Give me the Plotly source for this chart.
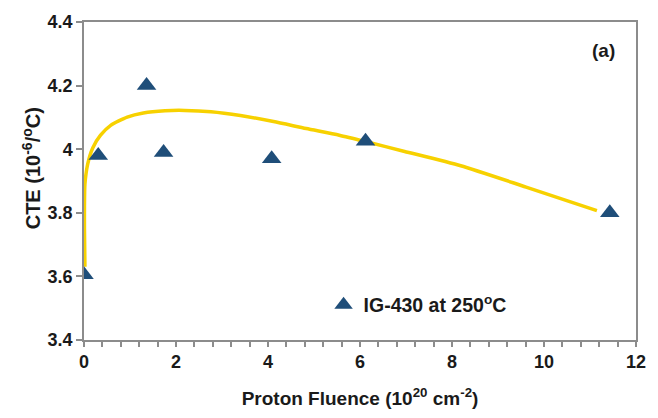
import plotly.graph_objects as go

# Measured data (IG-430 at 250 C)
fluence = [0.0, 0.31, 1.36, 1.73, 4.08, 6.12, 11.43]
cte = [3.605, 3.98, 4.20, 3.99, 3.97, 4.025, 3.80]

# Fit curve
fit_x = [0.02, 0.01, 0.01, 0.02, 0.08, 0.19, 0.36, 0.58, 0.94, 1.29, 1.76, 2.19, 2.76,
         3.40, 4.12, 4.83, 5.55, 6.12, 6.97, 8.19, 9.61, 11.15]
fit_y = [3.63, 3.75, 3.82, 3.89, 3.953, 4.004, 4.044, 4.075, 4.101, 4.114, 4.121, 4.122, 4.118,
         4.106, 4.087, 4.065, 4.044, 4.024, 3.993, 3.948, 3.881, 3.807]

x_ticks = [0, 2, 4, 6, 8, 10, 12]
y_ticks = [3.4, 3.6, 3.8, 4.0, 4.2, 4.4]
y_tick_text = ["3.4", "3.6", "3.8", "4", "4.2", "4.4"]

FONT = "Liberation Sans, Arial, sans-serif"
TXT = "#1a1a1a"
AX = "#8c8c8c"

fig = go.Figure()
fig.add_trace(go.Scatter(
    x=fit_x, y=fit_y, mode="lines",
    line=dict(color="#F7D100", width=3.5, shape="spline", smoothing=0.6),
    showlegend=False, hoverinfo="skip"))
fig.add_trace(go.Scatter(
    x=fluence, y=cte, mode="markers", name="<b>IG-430 at 250<sup>o</sup>C</b>",
    marker=dict(symbol="triangle-up", size=17, color="#1F4E79")))

fig.update_layout(
    width=658, height=418,
    margin=dict(l=84, r=13, t=16, b=76),
    paper_bgcolor="white", plot_bgcolor="white",
    font=dict(family=FONT, color=TXT, size=17),
    legend=dict(x=0.434, y=0.11, xanchor="left", yanchor="middle",
                bgcolor="rgba(0,0,0,0)", font=dict(size=19.5, family=FONT, color=TXT),
                itemwidth=30),
    annotations=[
        dict(text="<b>(a)</b>", x=0.941, y=0.911, xref="paper", yref="paper",
             xanchor="center", yanchor="middle",
             showarrow=False, font=dict(size=19, family=FONT, color=TXT)),
        dict(text="<b>CTE (10<sup>-6</sup>/<sup>o</sup>C)</b>", x=-0.096, y=0.54,
             xref="paper", yref="paper", xanchor="center", yanchor="middle",
             textangle=-90, showarrow=False, font=dict(size=20, family=FONT, color=TXT)),
    ],
)
fig.update_xaxes(
    range=[0, 12], tickvals=x_ticks, ticktext=[f"<b>{v}</b>" for v in x_ticks],
    ticks="outside", ticklen=5, tickcolor=AX, tickwidth=1.5,
    minor=dict(dtick=0.4, tick0=0, ticks="outside", ticklen=5, tickcolor=AX, tickwidth=1.5),
    showline=True, linecolor=AX, linewidth=1.5, mirror=True,
    showgrid=False, zeroline=False,
    tickfont=dict(size=18, family=FONT, color=TXT),
    title=dict(text="<b>Proton Fluence (10<sup>20</sup> cm<sup>-2</sup>)</b>",
               font=dict(size=19, family=FONT, color=TXT), standoff=20))
fig.update_yaxes(
    range=[3.4, 4.4], tickvals=y_ticks, ticktext=[f"<b>{t}</b>" for t in y_tick_text],
    ticks="outside", ticklen=6, tickcolor=AX, tickwidth=1.5,
    showline=True, linecolor=AX, linewidth=1.5, mirror=True,
    showgrid=False, zeroline=False,
    tickfont=dict(size=18, family=FONT, color=TXT))

fig.write_html("out.html")
